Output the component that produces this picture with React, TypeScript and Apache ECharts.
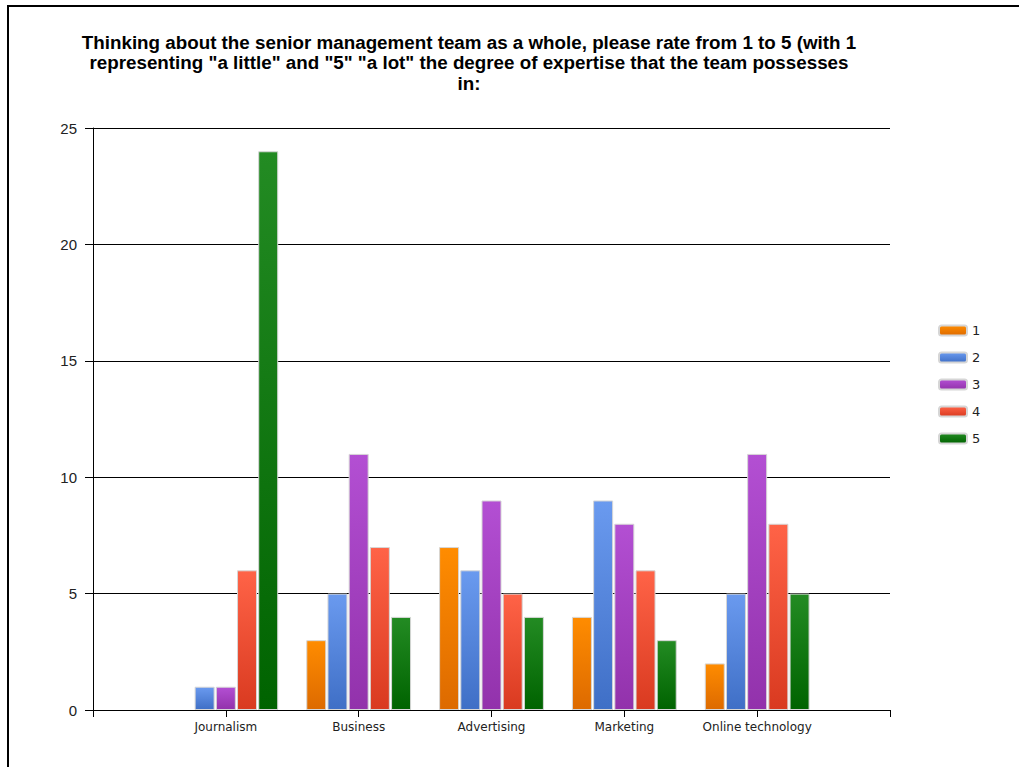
import React, { useEffect, useRef } from "react";
import * as echarts from "echarts";

const categories = ["", "Journalism", "Business", "Advertising", "Marketing", "Online technology", ""];
const seriesNames = ["1", "2", "3", "4", "5"];
const rating1 = [null, 0, 3, 7, 4, 2, null];
const rating2 = [null, 1, 5, 6, 9, 5, null];
const rating3 = [null, 1, 11, 9, 8, 11, null];
const rating4 = [null, 6, 7, 5, 6, 8, null];
const rating5 = [null, 24, 4, 4, 3, 5, null];
const yTicks = { min: 0, max: 25, interval: 5 };
const titleText =
  'Thinking about the senior management team as a whole, please rate from 1 to 5 (with 1\nrepresenting "a little" and "5" "a lot" the degree of expertise that the team possesses\nin:';

const gradients: [string, string][] = [
  ["#ff8c00", "#dd6a00"],
  ["#6a9aef", "#3f6fc6"],
  ["#b34fd3", "#9232ab"],
  ["#ff6347", "#d93a20"],
  ["#238b23", "#006300"],
];

export default function App() {
  const ref = useRef<HTMLDivElement>(null);
  useEffect(() => {
    if (!ref.current) return;
    const chart = echarts.init(ref.current, undefined, { renderer: "svg" });
    const allData = [rating1, rating2, rating3, rating4, rating5];
    chart.setOption({
      animation: false,
      backgroundColor: "#ffffff",
      graphic: [
        {
          type: "text",
          x: 469,
          y: 32,
          style: {
            text: titleText,
            font: "bold 18.8px 'Liberation Sans', Arial, sans-serif",
            fill: "#000",
            textAlign: "center",
            textVerticalAlign: "top",
            lineHeight: 20.5,
          },
        },
      ],
      legend: {
        orient: "vertical",
        left: 933,
        top: 319,
        itemWidth: 28,
        itemHeight: 10,
        itemGap: 14,
        textStyle: { fontSize: 13, color: "#222", fontFamily: "'DejaVu Sans', sans-serif" },
        data: seriesNames,
      },
      grid: { left: 93, right: 129, top: 128, bottom: 57, containLabel: false },
      xAxis: {
        type: "category",
        data: categories,
        boundaryGap: false,
        axisLine: { show: true, lineStyle: { color: "#000", width: 1 } },
        axisTick: { show: true, interval: 0, length: 7, lineStyle: { color: "#000" } },
        axisLabel: {
          interval: 0,
          fontSize: 12,
          color: "#222",
          margin: 11,
          fontFamily: "'DejaVu Sans', sans-serif",
        },
        splitLine: { show: false },
      },
      yAxis: {
        type: "value",
        min: yTicks.min,
        max: yTicks.max,
        interval: yTicks.interval,
        axisLine: { show: true, lineStyle: { color: "#000", width: 1 } },
        axisTick: { show: true, length: 8, lineStyle: { color: "#000" } },
        axisLabel: {
          fontSize: 15,
          color: "#222",
          margin: 16,
          fontFamily: "'Liberation Sans', Arial, sans-serif",
        },
        splitLine: { show: true, lineStyle: { color: "#000", width: 1 } },
      },
      series: seriesNames.map((name, i) => ({
        name,
        type: "bar",
        data: allData[i].map((v) =>
          v === 0 ? { value: 0, itemStyle: { borderWidth: 0, opacity: 0 } } : v
        ),
        barWidth: 20,
        barGap: "6%",
        itemStyle: {
          color: new echarts.graphic.LinearGradient(0, 0, 0, 1, [
            { offset: 0, color: gradients[i][0] },
            { offset: 1, color: gradients[i][1] },
          ]),
          borderColor: "#d6d6d6",
          borderWidth: 1,
        },
      })),
    });
    return () => chart.dispose();
  }, []);
  return (
    <div style={{ position: "absolute", left: 0, top: 0, width: 1019, height: 767, background: "#fff" }}>
      <div ref={ref} style={{ position: "absolute", left: 0, top: 0, width: 1019, height: 767 }} />
      <div
        style={{
          position: "absolute",
          left: 7,
          top: 5,
          width: 1019,
          height: 767,
          borderLeft: "2px solid #000",
          borderTop: "2px solid #000",
          pointerEvents: "none",
        }}
      />
    </div>
  );
}
